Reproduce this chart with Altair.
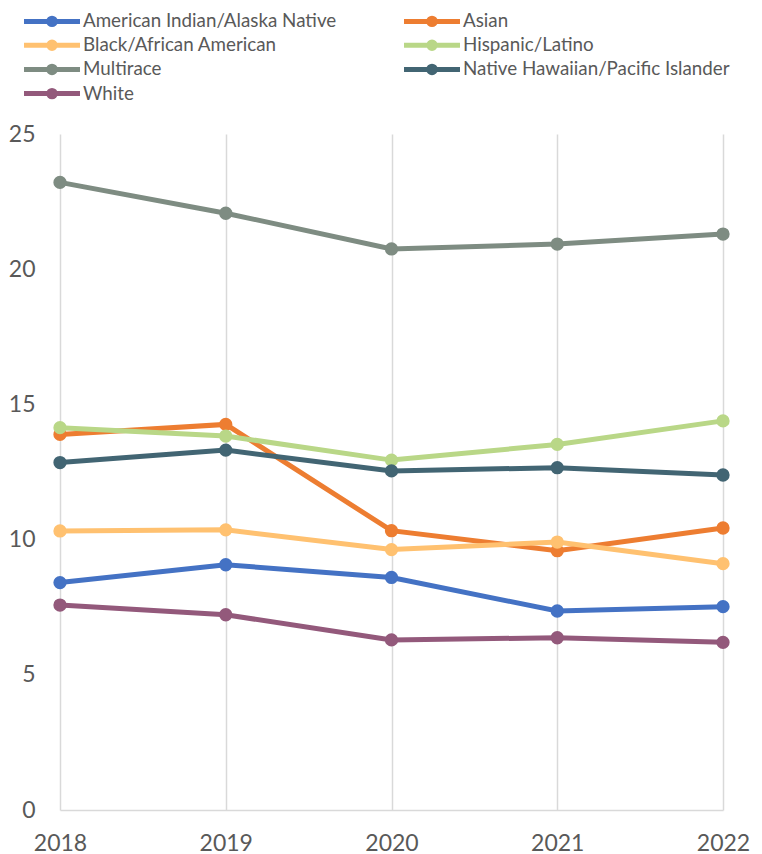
import altair as alt
import pandas as pd

years = ["2018", "2019", "2020", "2021", "2022"]
groups = [
    "American Indian/Alaska Native",
    "Asian",
    "Black/African American",
    "Hispanic/Latino",
    "Multirace",
    "Native Hawaiian/Pacific Islander",
    "White",
]
colors = ["#4472C4", "#ED7D31", "#FFC170", "#B9D787", "#7E8C82", "#426573", "#93597B"]

aian = [8.41, 9.07, 8.60, 7.36, 7.52]
asian = [13.89, 14.26, 10.33, 9.59, 10.43]
black = [10.32, 10.36, 9.63, 9.91, 9.11]
hispanic = [14.14, 13.83, 12.94, 13.52, 14.39]
multirace = [23.21, 22.07, 20.75, 20.93, 21.30]
nhpi = [12.85, 13.31, 12.54, 12.66, 12.39]
white = [7.58, 7.22, 6.29, 6.37, 6.20]

series = [aian, asian, black, hispanic, multirace, nhpi, white]
y_ticks = [0, 5, 10, 15, 20, 25]

rows = []
for gi, (g, vals) in enumerate(zip(groups, series)):
    for yr, v in zip(years, vals):
        rows.append({"year": yr, "group": g, "value": v, "order": gi})
df = pd.DataFrame(rows)

FONT = "Lato"
TXT = "#595959"
GRID = "#d9d9d9"

# legend symbol: a line with a dot in the middle (unit coords, size 15px box)
sym = ("M-3.73,0H3.73"
       "M0.43,0A0.43,0.43,0,1,1,-0.43,0A0.43,0.43,0,1,1,0.43,0"
       "M0.14,0A0.14,0.14,0,1,1,-0.14,0A0.14,0.14,0,1,1,0.14,0")

color = alt.Color(
    "group:N",
    scale=alt.Scale(domain=groups, range=colors),
    sort=groups,
    legend=alt.Legend(
        title=None,
        orient="none",
        direction="horizontal",
        legendX=-18,
        legendY=-123,
        columns=2,
        columnPadding=57,
        rowPadding=-3.8,
        symbolType=sym,
        symbolSize=225,
        symbolStrokeWidth=5,
        labelFontSize=18.8,
        labelFont=FONT,
        labelColor=TXT,
        labelOffset=21,
        labelLimit=400,
        padding=0,
    ),
)

x = alt.X(
    "year:O",
    sort=years,
    scale=alt.Scale(type="point", padding=0),
    axis=alt.Axis(
        title=None,
        labelAngle=0,
        grid=True,
        gridColor=GRID,
        gridWidth=1.5,
        ticks=False,
        domain=True,
        domainColor=GRID,
        domainWidth=1.5,
        labelFont=FONT,
        labelFontSize=23,
        labelColor=TXT,
        labelPadding=22,
    ),
)

y = alt.Y(
    "value:Q",
    scale=alt.Scale(domain=[0, 25], nice=False, zero=True),
    axis=alt.Axis(
        title=None,
        values=y_ticks,
        grid=False,
        domain=False,
        ticks=False,
        labelFont=FONT,
        labelFontSize=23,
        labelColor=TXT,
        labelPadding=25,
    ),
)

chart = (
    alt.Chart(df)
    .mark_line(strokeWidth=5, point=alt.OverlayMarkDef(size=177, filled=True, opacity=1))
    .encode(x=x, y=y, color=color, order=alt.Order("order:Q"))
    .properties(
        width=663,
        height=676,
        autosize=alt.AutoSizeParams(type="none"),
        padding={"left": 60, "top": 134, "right": 39, "bottom": 44},
    )
    .configure_view(stroke=None)
)

chart.save("out.html", embed_options={"renderer": "svg", "actions": False})
